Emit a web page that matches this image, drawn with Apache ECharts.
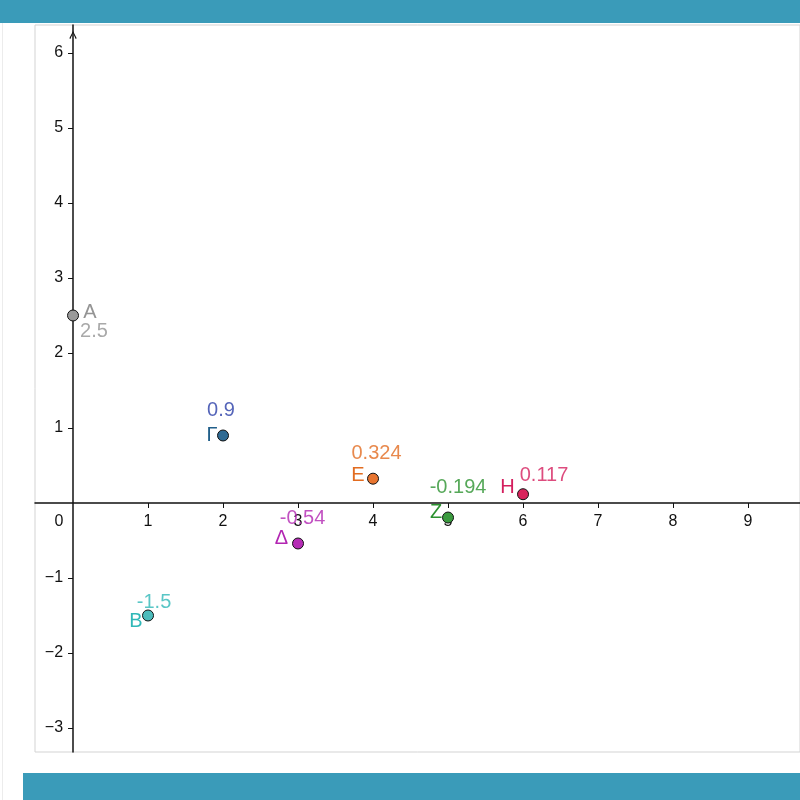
<!DOCTYPE html>
<html>
<head>
<meta charset="utf-8">
<title>Points</title>
<script src="https://cdn.jsdelivr.net/npm/echarts@6/dist/echarts.min.js"></script>
<style>
    html, body { margin: 0; padding: 0; background: #fff; }
    #wrap { position: relative; width: 800px; height: 800px; overflow: hidden; }
    .bar { position: absolute; background: #3a9bb9; }
    #leftLine { position: absolute; left: 2px; top: 23px; width: 1px; height: 777px; background: #ececec; }
    #chart { position: absolute; left: 0; top: 0; width: 800px; height: 800px; }
</style>
</head>
<body>
<div id="wrap">
    <div class="bar" style="left:0;top:0;width:800px;height:23px;"></div>
    <div class="bar" style="left:23px;top:773px;width:777px;height:27px;"></div>
    <div id="leftLine"></div>
    <div id="chart"></div>
</div>
<script>
// point data
const pointNames = ['A', 'B', 'Γ', 'Δ', 'E', 'Z', 'H'];
const pointX = [0, 1, 2, 3, 4, 5, 6];
const pointY = [2.5, -1.5, 0.9, -0.54, 0.324, -0.194, 0.117];
const valueTexts = ['2.5', '-1.5', '0.9', '-0.54', '0.324', '-0.194', '0.117'];

// tick labels
const xTicks = [0, 1, 2, 3, 4, 5, 6, 7, 8, 9];
const yTicks = [-3, -2, -1, 1, 2, 3, 4, 5, 6];

// styling per point (colours and label offsets from the point centre)
const pointFill = ['#9a9a9a', '#4cbcbc', '#2f6a93', '#b52cb5', '#e87530', '#3a9a3e', '#d8245c'];
const nameColor = ['#949494', '#30b8b8', '#215f8a', '#b226b2', '#e26c20', '#2c9230', '#d41f5e'];
const valueColor = ['#949494', '#30b8b8', '#2a3ea8', '#b226b2', '#e26c20', '#2c9230', '#d41f5e'];
const nameOffset = [[17, -3.5], [-12, 5.5], [-11, 0], [-16.5, -5.5], [-15, -3.5], [-12, -5.5], [-15.5, -7]];
const valueOffset = [[21, 15.5], [6, -13.5], [-2, -25], [4.5, -25.5], [3.5, -25], [10, -30], [21, -19]];

const fmtTick = v => (v < 0 ? '\u2212' + (-v) : String(v));
const labelFont = '"Liberation Sans", Arial, sans-serif';

// grid box and where the zero lines sit inside it
const gridLeft = 35, gridTop = 25, gridW = 765, gridH = 727;
const xMin = -0.507, xMax = 9.693, yMin = -3.32, yMax = 6.373;
const xZeroShift = -(gridH * (0 - yMin) / (yMax - yMin));   // move x axis up to y = 0
const yZeroShift = -(gridW * (0 - xMin) / (xMax - xMin));   // move y axis right to x = 0

const chart = echarts.init(document.getElementById('chart'), null, { renderer: 'canvas' });

const nameData = pointNames.map((n, i) => ({
    value: [pointX[i], pointY[i]],
    name: n,
    itemStyle: { color: pointFill[i] },
    label: { color: nameColor[i], offset: nameOffset[i] }
}));

const valueData = valueTexts.map((t, i) => ({
    value: [pointX[i], pointY[i]],
    name: t,
    label: { color: valueColor[i], offset: valueOffset[i] }
}));

chart.setOption({
    animation: false,
    grid: {
        left: gridLeft, top: gridTop, width: gridW, height: gridH,
        show: true, borderColor: '#d3d3d3', borderWidth: 1, backgroundColor: 'transparent'
    },
    xAxis: {
        type: 'value',
        min: xMin, max: xMax,
        position: 'bottom',
        offset: xZeroShift,
        splitLine: { show: false },
        axisLine: { onZero: false, lineStyle: { color: '#111', width: 1.5 } },
        axisTick: { show: true, length: 5, customValues: xTicks.filter(v => v !== 0), lineStyle: { color: '#111' } },
        axisLabel: {
            customValues: xTicks,
            margin: 11,
            color: '#111',
            fontSize: 16,
            fontFamily: labelFont,
            formatter: v => (v === 0 ? '{z|0}' : fmtTick(v)),
            rich: { z: { padding: [0, 28, 0, 0], fontSize: 16, color: '#111', fontFamily: labelFont } }
        }
    },
    yAxis: {
        type: 'value',
        min: yMin, max: yMax,
        position: 'left',
        offset: yZeroShift,
        splitLine: { show: false },
        axisLine: {
            onZero: false,
            symbol: ['none', 'path://M0,10 L5,0 L10,10 L8.6,10.9 L5,2.8 L1.4,10.9 Z'],
            symbolSize: [11, 8],
            symbolOffset: [0, -10],
            lineStyle: { color: '#111', width: 1.5 }
        },
        axisTick: { show: true, length: 5, customValues: yTicks, lineStyle: { color: '#111' } },
        axisLabel: {
            customValues: yTicks,
            margin: 10,
            color: '#111',
            fontSize: 16,
            fontFamily: labelFont,
            formatter: fmtTick
        }
    },
    series: [
        {
            type: 'scatter',
            symbol: 'circle',
            symbolSize: 11,
            itemStyle: { borderColor: '#111', borderWidth: 1, opacity: 1 },
            label: {
                show: true,
                position: 'inside',
                formatter: p => p.name,
                fontSize: 20,
                fontFamily: labelFont
            },
            emphasis: { disabled: true },
            data: nameData,
            z: 3
        },
        {
            type: 'scatter',
            symbol: 'circle',
            symbolSize: 1,
            itemStyle: { color: 'transparent', borderWidth: 0 },
            label: {
                show: true,
                position: 'inside',
                formatter: p => p.name,
                fontSize: 20,
                fontFamily: labelFont
            },
            emphasis: { disabled: true },
            data: valueData,
            z: 4
        }
    ]
});

window.addEventListener('resize', () => chart.resize());
</script>
</body>
</html>
